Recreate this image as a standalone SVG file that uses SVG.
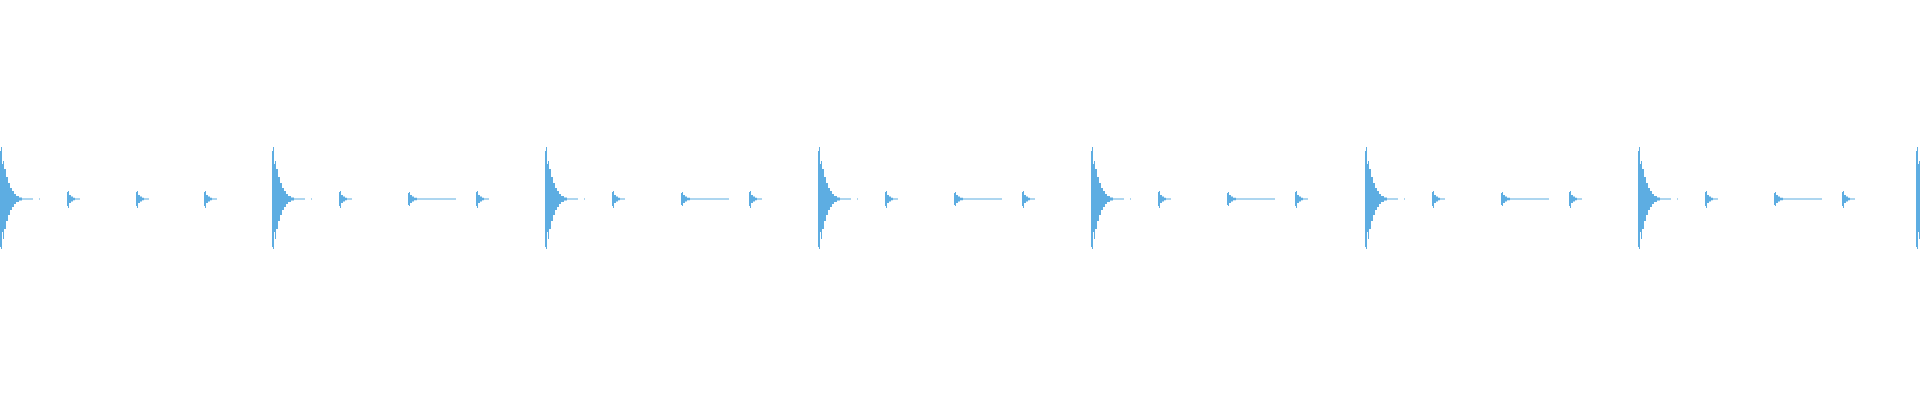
<svg xmlns="http://www.w3.org/2000/svg" xmlns:xlink="http://www.w3.org/1999/xlink" width="1920" height="400" viewBox="0 0 1920 400">
<style>.w{fill:#5DADE2}</style>
<defs>
<path id="big" class="w" d="M0,-48 L1,-48 L1,-52 L2,-52 L2,-35 L3,-35 L3,-38 L4,-38 L4,-30 L6,-30 L6,-22 L8,-22 L8,-16 L10,-16 L10,-11 L12,-11 L12,-8 L14,-8 L14,-5 L16,-5 L16,-3 L19,-3 L19,-1.5 L22,-1.5 L22,-0.6 L33,-0.6 L33,0.6 L22,0.6 L22,1.5 L19,1.5 L19,3 L16,3 L16,5 L14,5 L14,8 L12,8 L12,11 L10,11 L10,16 L8,16 L8,22 L6,22 L6,30 L4,30 L4,40 L3,40 L3,33 L2,33 L2,50 L1,50 L1,48 L0,48 Z M39,-0.6 h1 v1.2 h-1 Z"/>
<path id="small" class="w" d="M0,-7 L1,-7 L1,-8 L2,-8 L2,-4 L4,-4 L4,-2.5 L6,-2.5 L6,-1.2 L8,-1.2 L8,-0.6 L13,-0.6 L13,0.6 L8,0.6 L8,1.2 L6,1.2 L6,2.5 L4,2.5 L4,4 L2,4 L2,9 L1,9 L1,7 L0,7 Z"/>
<path id="long" class="w" d="M0,-6 L1,-6 L1,-7 L2,-7 L2,-4 L4,-4 L4,-2.5 L6,-2.5 L6,-1.2 L9,-1.2 L9,-0.6 L48,-0.6 L48,0.6 L9,0.6 L9,1.2 L6,1.2 L6,2.5 L4,2.5 L4,4 L2,4 L2,7 L1,7 L1,6 L0,6 Z"/>
<g id="cycle">
<use xlink:href="#big" x="0" y="0"/>
<use xlink:href="#small" x="67" y="0"/>
<use xlink:href="#long" x="136" y="0"/>
<use xlink:href="#small" x="204" y="0"/>
</g>
</defs>
<g id="c1" transform="translate(0,199)"><use xlink:href="#big"/><use xlink:href="#small" x="67"/><use xlink:href="#small" x="136"/><use xlink:href="#small" x="204"/></g>
<g id="c2" transform="translate(272,199)"><use xlink:href="#cycle"/></g>
<g id="c3" transform="translate(545,199)"><use xlink:href="#cycle"/></g>
<g id="c4" transform="translate(818,199)"><use xlink:href="#cycle"/></g>
<g id="c5" transform="translate(1091,199)"><use xlink:href="#cycle"/></g>
<g id="c6" transform="translate(1365,199)"><use xlink:href="#cycle"/></g>
<g id="c7" transform="translate(1638,199)"><use xlink:href="#cycle"/></g>
<g id="c8" transform="translate(1916,199)"><use xlink:href="#big"/></g>
</svg>
